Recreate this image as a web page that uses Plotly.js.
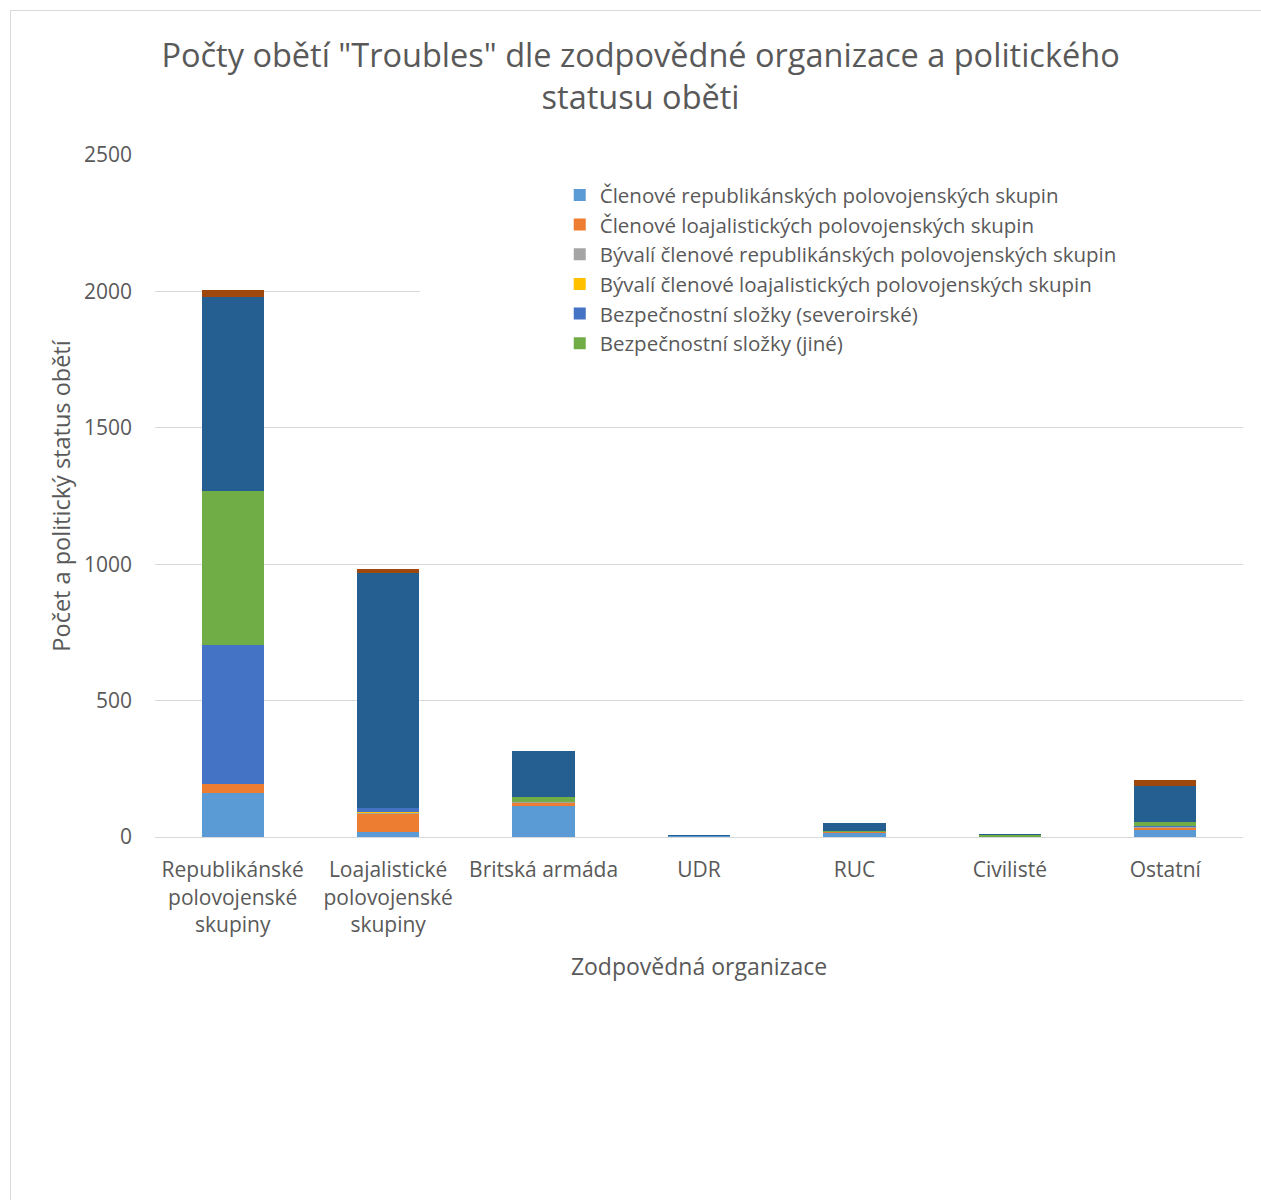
<!DOCTYPE html>
<html>
<head>
<meta charset="utf-8">
<script src="https://cdn.plot.ly/plotly-3.0.1.min.js"></script>
<style>
html, body { margin: 0; padding: 0; background: #fff; overflow: hidden; }
#frame { position: absolute; left: 10px; top: 10px; width: 1400px; height: 1400px; border: 1px solid #d9d9d9; box-sizing: border-box; }
#chart { position: absolute; left: 0; top: 0; width: 1261px; height: 1200px; }
</style>
</head>
<body>
<div id="frame"></div>
<div id="chart"></div>
<script>
const categories = ["Republikánské<br>polovojenské<br>skupiny", "Loajalistické<br>polovojenské<br>skupiny", "Britská armáda", "UDR", "RUC", "Civilisté", "Ostatní"];

const seriesNames = [
  "Členové republikánských polovojenských skupin",
  "Členové loajalistických polovojenských skupin",
  "Bývalí členové republikánských polovojenských skupin",
  "Bývalí členové loajalistických polovojenských skupin",
  "Bezpečnostní složky (severoirské)",
  "Bezpečnostní složky (jiné)",
  "Civilisté",
  "Neznámé"
];

const repMembers   = [162, 20, 115, 2, 14, 0, 27];
const loyMembers   = [31, 66, 10, 0, 3, 0, 7];
const exRep        = [2, 2, 3, 0, 1, 0, 2];
const exLoy        = [1, 3, 0, 0, 0, 0, 1];
const secNI        = [506, 15, 2, 0, 1, 0, 2];
const secOther     = [565, 2, 16, 0, 3, 6, 15];
const civilians    = [711, 861, 168, 6, 31, 4, 132];
const unknown      = [26, 13, 3, 0, 0, 0, 24];

const seriesValues = [repMembers, loyMembers, exRep, exLoy, secNI, secOther, civilians, unknown];
const colors = ["#5B9BD5", "#ED7D31", "#A5A5A5", "#FFC000", "#4472C4", "#70AD47", "#255E91", "#9E480E"];
const inLegend = [true, true, true, true, true, true, false, false];

const FONT = "'Open Sans', sans-serif";
const TXT = "#595959";

const traces = seriesValues.map((vals, i) => ({
  type: "bar",
  name: seriesNames[i],
  x: categories,
  y: vals,
  marker: { color: colors[i], line: { width: 0 } },
  showlegend: inLegend[i],
  hoverinfo: "x+y+name"
}));

const layout = {
  width: 1261,
  height: 1200,
  paper_bgcolor: "rgba(0,0,0,0)",
  plot_bgcolor: "rgba(0,0,0,0)",
  barmode: "stack",
  bargap: 0.6,
  margin: { l: 155, r: 18, t: 155, b: 363 },
  font: { family: FONT, color: TXT, size: 21 },
  title: {
    text: "Počty obětí \"Troubles\" dle zodpovědné organizace a politického<br>statusu oběti",
    font: { family: FONT, size: 32.5, color: TXT },
    x: 0.508, xanchor: "center",
    y: 0.944, yanchor: "top"
  },
  xaxis: {
    type: "category",
    showgrid: false,
    showline: true,
    linecolor: "#d9d9d9",
    linewidth: 1,
    ticks: "",
    ticklabelstandoff: 14,
    tickfont: { family: FONT, size: 21, color: TXT },
    title: { text: "Zodpovědná organizace", font: { family: FONT, size: 23, color: TXT }, standoff: 22 }
  },
  yaxis: {
    range: [0, 2500],
    tickvals: [0, 500, 1000, 1500, 2000, 2500],
    showgrid: true,
    gridcolor: "#d9d9d9",
    gridwidth: 1,
    zeroline: false,
    showline: false,
    ticks: "",
    ticklabelstandoff: 22,
    tickfont: { family: FONT, size: 21, color: TXT },
    title: { text: "Počet a politický status obětí", font: { family: FONT, size: 23.5, color: TXT }, standoff: 6 }
  },
  legend: {
    x: 0.372, xanchor: "left",
    y: 0.9705, yanchor: "top",
    bgcolor: "rgba(0,0,0,0)",
    font: { family: FONT, size: 20.5, color: TXT },
    traceorder: "normal",
    itemclick: false
  },
  shapes: [{
    type: "rect", layer: "above",
    xref: "paper", yref: "y",
    x0: 0.2436, x1: 1.0, y0: 1700, y1: 2300,
    fillcolor: "#ffffff", line: { width: 0 }
  }]
};

Plotly.newPlot("chart", traces, layout, { displayModeBar: false, staticPlot: true });
</script>
</body>
</html>
